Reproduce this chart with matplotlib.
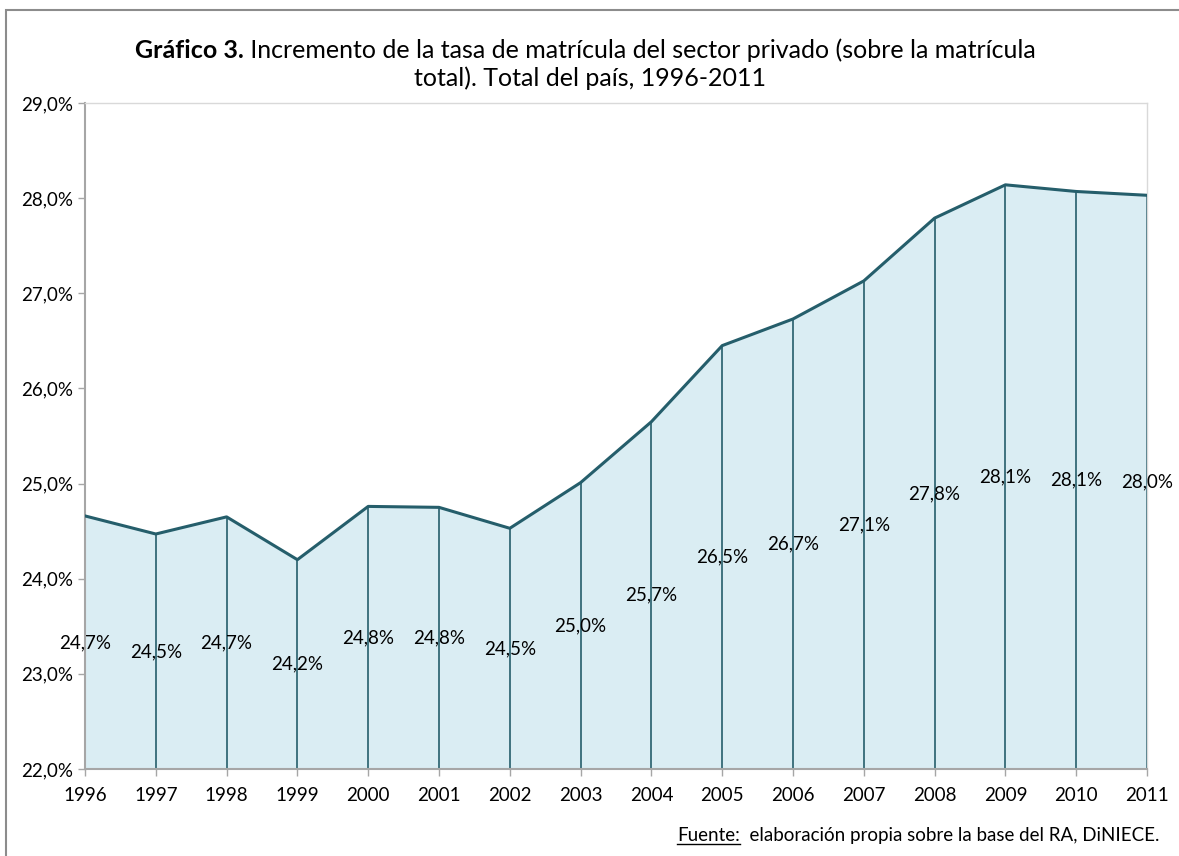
import matplotlib.pyplot as plt
from matplotlib.patches import Rectangle
from matplotlib.lines import Line2D
from matplotlib.ticker import FuncFormatter

plt.rcParams['font.family'] = ['Lato', 'DejaVu Sans']

years = [1996, 1997, 1998, 1999, 2000, 2001, 2002, 2003,
         2004, 2005, 2006, 2007, 2008, 2009, 2010, 2011]
tasa = [24.66, 24.47, 24.65, 24.20, 24.76, 24.75, 24.53, 25.01,
        25.65, 26.45, 26.73, 27.13, 27.79, 28.14, 28.07, 28.03]
labels = ['24,7%', '24,5%', '24,7%', '24,2%', '24,8%', '24,8%', '24,5%', '25,0%',
          '25,7%', '26,5%', '26,7%', '27,1%', '27,8%', '28,1%', '28,1%', '28,0%']
yticks = [22, 23, 24, 25, 26, 27, 28, 29]

line_col = '#255E6B'
fill_col = '#DAEDF3'
grey = '#A6A6A6'

fig = plt.figure(figsize=(11.79, 8.56), dpi=100)
ax = fig.add_axes([85 / 1179, 1 - 769 / 856, 1062 / 1179, 666 / 856])

# outer chart frame (cropped on right/bottom)
fig.patches.append(Rectangle((6 / 1179, -0.05), 1.2, 1 - 9.5 / 856 + 0.05,
                             transform=fig.transFigure, fill=False,
                             edgecolor='#8C8C8C', lw=1.5))

ymin = 22
ax.fill_between(years, ymin, tasa, color=fill_col, zorder=1)
ax.vlines(years, ymin, tasa, color=line_col, lw=1.2, zorder=2)
ax.plot(years, tasa, color=line_col, lw=2.2, zorder=3)

for x, v, lab in zip(years, tasa, labels):
    ax.text(x, (ymin + v) / 2, lab, ha='center', va='center', fontsize=13.5, zorder=4)

ax.set_xlim(years[0], years[-1])
ax.set_ylim(22, 29)
ax.set_xticks(years)
ax.set_yticks(yticks)
ax.yaxis.set_major_formatter(FuncFormatter(lambda v, p: f'{v:.1f}'.replace('.', ',') + '%'))
ax.tick_params(axis='both', labelsize=13.5, colors=grey, labelcolor='black', length=5, width=1)
ax.tick_params(axis='x', pad=8)

for s in ['top', 'right']:
    ax.spines[s].set_color('#D9D9D9')
    ax.spines[s].set_linewidth(1)
for s in ['left', 'bottom']:
    ax.spines[s].set_color(grey)
    ax.spines[s].set_linewidth(1.5)

# title with bold prefix
fig.canvas.draw()
r = fig.canvas.get_renderer()
t1 = fig.text(0, 0, 'Gráfico 3.', fontsize=18, fontweight='bold')
t2 = fig.text(0, 0, ' Incremento de la tasa de matrícula del sector privado (sobre la matrícula',
              fontsize=18)
w1 = t1.get_window_extent(r).width
w2 = t2.get_window_extent(r).width
x0 = (585 - (w1 + w2) / 2) / 1179
y1 = 1 - 58 / 856
t1.set_position((x0, y1))
t2.set_position((x0 + w1 / 1179, y1))
fig.text(590 / 1179, 1 - 86 / 856, 'total). Total del país, 1996-2011', fontsize=18, ha='center')

# source note
yf = 1 - 841 / 856
f1 = fig.text(677 / 1179, yf, 'Fuente:', fontsize=13.5)
wf = f1.get_window_extent(r).width
fig.text(677 / 1179 + wf / 1179, yf, '  elaboración propia sobre la base del RA, DiNIECE.', fontsize=13.5)
fig.lines.append(Line2D([677 / 1179, (677 + wf) / 1179], [yf - 3 / 856, yf - 3 / 856],
                        transform=fig.transFigure, color='black', lw=1))

fig.savefig('out.png', dpi=100)
